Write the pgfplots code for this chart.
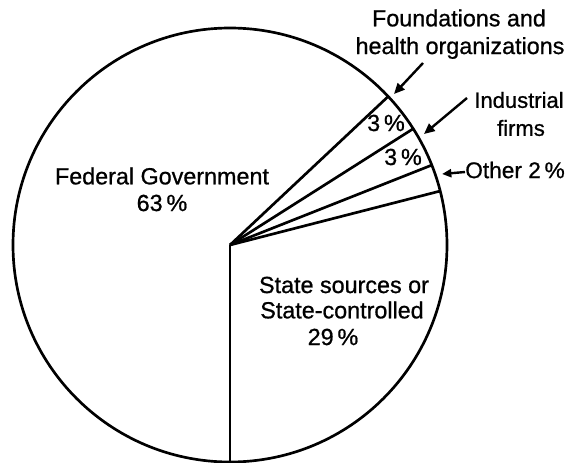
\documentclass[border=0pt]{standalone}
\usepackage{pgfplots}
\pgfplotsset{compat=1.18}
\usetikzlibrary{arrows.meta}
\usepackage{fontspec}
\setmainfont{Liberation Sans}
\newfontfamily\labfont{Liberation Sans}[FakeBold=0.8]
\begin{document}
\begin{tikzpicture}
\path[use as bounding box] (0,0) rectangle (426pt,346.5pt);
\begin{axis}[
  x=0.75pt, y=0.75pt,
  xmin=0, xmax=568, ymin=0, ymax=462,
  hide axis, clip=false,
  at={(0,0)}, anchor=south west,
]
% pie centre (230,217), radius 217 units = 162.75pt
\draw[line width=2pt] (axis cs:230,217) circle[radius=162.75pt];
% cumulative shares (percent), starting at the bottom, counter-clockwise:
% State 29, Other 2, Industrial 3, Foundations 3, Federal 63
\pgfplotsinvokeforeach{0,29,31,34,37}{
  \draw[line width=2pt] (axis cs:230,217) -- ++({-90+#1*3.6}:162.75pt);
}
\tikzset{lab/.style={font=\labfont\fontsize{17.5}{20}\selectfont, inner sep=0pt, anchor=center}}
\node[lab] at (axis cs:162,286) {Federal Government};
\node[lab] at (axis cs:162,259) {63\,\%};
\node[lab] at (axis cs:344,177) {State sources or};
\node[lab] at (axis cs:342,152) {State-controlled};
\node[lab] at (axis cs:333,125) {29\,\%};
\node[lab] at (axis cs:386,339) {3\,\%};
\node[lab] at (axis cs:403,305) {3\,\%};
\node[lab] at (axis cs:459,444) {Foundations and};
\node[lab] at (axis cs:460,414) {health organizations};
\node[lab, font=\labfont\fontsize{16.5}{20}\selectfont] at (axis cs:519,362) {Industrial};
\node[lab, font=\labfont\fontsize{16.5}{20}\selectfont] at (axis cs:521,334) {firms};
\node[lab, anchor=west, font=\labfont\fontsize{17}{20}\selectfont] at (axis cs:465,292) {Other 2\,\%};
\draw[line width=1.8pt, -{Triangle[length=8pt,width=7pt]}] (axis cs:423,399) -- (axis cs:394,368);
\draw[line width=1.8pt, -{Triangle[length=8pt,width=7pt]}] (axis cs:467,364) -- (axis cs:424,328);
\draw[line width=1.8pt, -{Triangle[length=7pt,width=6pt]}] (axis cs:465,290) -- (axis cs:442,288);
\end{axis}
\end{tikzpicture}
\end{document}
